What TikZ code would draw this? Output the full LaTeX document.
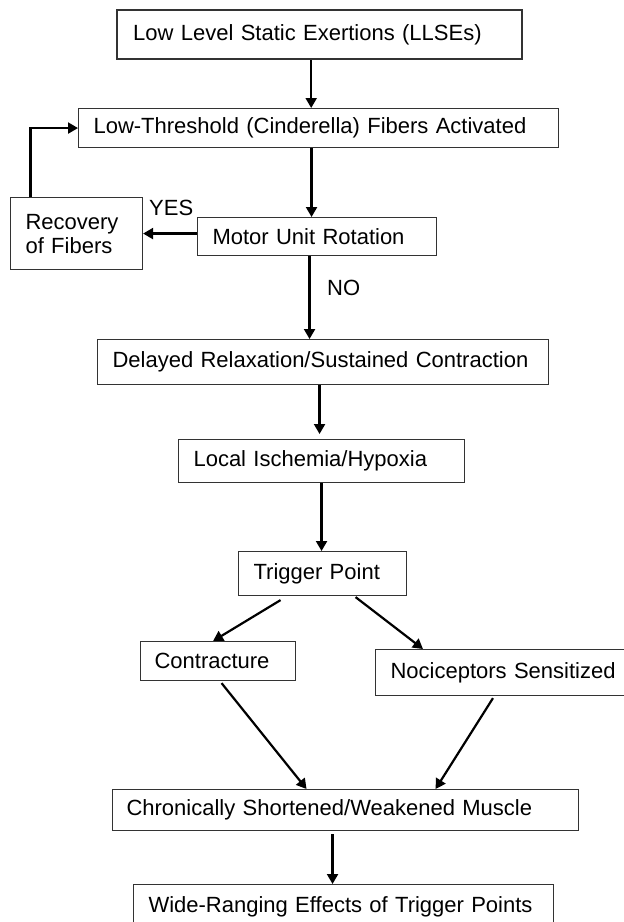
\documentclass[tikz,border=0pt]{standalone}
\usepackage{fontspec}
\setmainfont{Liberation Sans}
\usetikzlibrary{arrows.meta}
\tikzset{
	box/.style={draw=black!80, line width=1.1pt, anchor=north west, align=left, inner xsep=15pt, inner ysep=0pt, font=\fontsize{22}{24}\selectfont},
	arr/.style={line width=2.2pt, -{Triangle[length=10pt,width=11pt]}},
	lbl/.style={font=\fontsize{22}{24}\selectfont, inner sep=0pt, anchor=west}
}

\begin{document}
\begin{tikzpicture}[x=1pt, y=-1pt]
			%%%%% START %%%%%
			\clip (0,0) rectangle (624,922);
			
			\node[box, line width=2.4pt, inner xsep=16pt, text width=373pt, minimum height=49pt] (llse) at (116,9) {Low Level Static Exertions (LLSEs)};
			\node[box, text width=450pt, minimum height=39pt] (thresh) at (78,108) {Low-Threshold (Cinderella) Fibers Activated};
			\node[box, text width=209pt, minimum height=38pt] (motor) at (197,217) {Motor Unit Rotation};
			\node[box, text width=102pt, minimum height=72pt] (recov) at (10,197) {Recovery\\of Fibers};
			\node[box, text width=421pt, minimum height=45pt] (delay) at (97,339) {Delayed Relaxation/Sustained Contraction};
			\node[box, text width=256pt, minimum height=43pt] (local) at (178,439) {Local Ischemia/Hypoxia};
			\node[box, text width=138pt, minimum height=44pt] (trig) at (238,551) {Trigger Point};
			\node[box, inner xsep=14pt, text width=127pt, minimum height=39pt] (contr) at (140,641) {Contracture};
			\node[box, text width=240pt, minimum height=46pt] (noci) at (375,649) {Nociceptors Sensitized};
			\node[box, inner xsep=14pt, text width=438pt, minimum height=41pt] (chron) at (112,789) {Chronically Shortened/Weakened Muscle};
			\node[box, text width=390pt, minimum height=44pt] (wide) at (133,884) {Wide-Ranging Effects of Trigger Points};
			
			\node[lbl] (yes) at (149,208) {YES};
			\node[lbl] (no) at (327,288) {NO};
			
			%%%%% ARROWS %%%%%
			\draw[arr] ([xshift=-8.5]llse.south) -- ([xshift=-8.5]llse.south |- thresh.north);
			\draw[arr] ([xshift=-7]thresh.south) -- ([xshift=-7]thresh.south |- motor.north);
			\draw[arr] ([yshift=3]motor.west) -- ([yshift=3]motor.west -| recov.east);
			\draw[arr] ([xshift=-46]recov.north) |- (thresh.west);
			\draw[arr] ([xshift=-7.5]motor.south) -- ([xshift=-7.5]motor.south |- delay.north);
			\draw[arr, shorten >=5pt] ([xshift=-3.5]delay.south) -- ([xshift=-3.5]delay.south |- local.north);
			\draw[arr] (local.south) -- (local.south |- trig.north);
			\draw[arr] ([xshift=-42,yshift=-4]trig.south) -- ([xshift=-5]contr.north);
			\draw[arr] ([xshift=33,yshift=-1]trig.south) -- ([xshift=48]noci.north west);
			\draw[arr] ([xshift=3.5,yshift=-2]contr.south) -- ([xshift=-39]chron.north);
			\draw[arr] ([xshift=118,yshift=-2]noci.south west) -- ([xshift=90]chron.north);
			\draw[arr] ([xshift=-13,yshift=-3]chron.south) -- ([xshift=-13]chron.south |- wide.north);
			
			%%%%% END %%%%%
\end{tikzpicture}
\end{document}
